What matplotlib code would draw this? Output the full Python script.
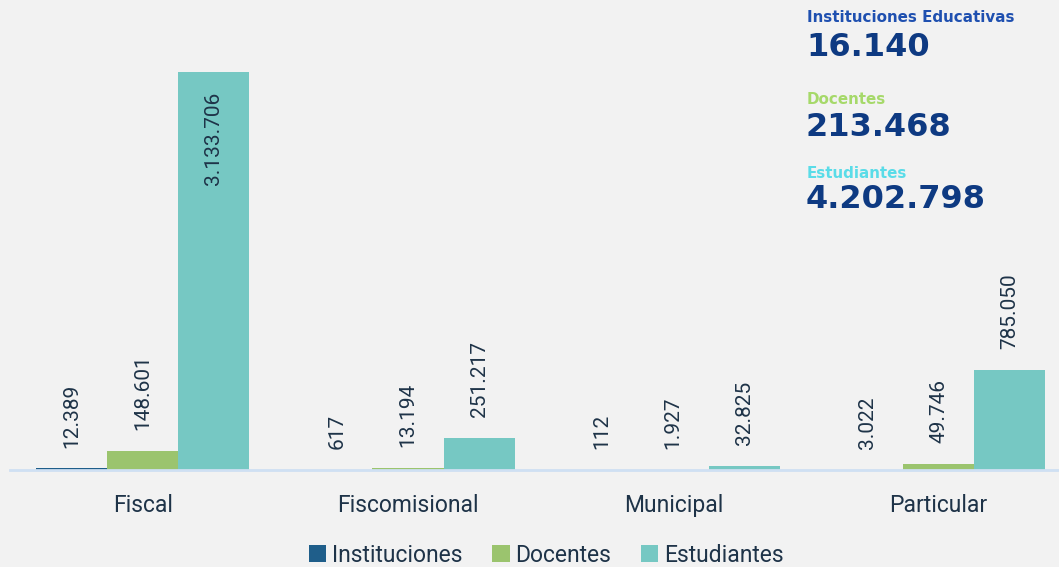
import matplotlib.pyplot as plt
import numpy as np

# --- data
categorias = ["Fiscal", "Fiscomisional", "Municipal", "Particular"]
instituciones = [12389, 617, 112, 3022]
docentes = [148601, 13194, 1927, 49746]
estudiantes = [3133706, 251217, 32825, 785050]

etiquetas_resumen = ["Instituciones Educativas", "Docentes", "Estudiantes"]
valores_resumen = ["16.140", "213.468", "4.202.798"]


def fmt(v):
    return f"{v:,}".replace(",", ".")


bg = "#f2f2f2"
text_col = "#1e3348"
colores = ["#1f5e8a", "#9bc46e", "#76c8c3"]
series = [("Instituciones", instituciones),
          ("Docentes", docentes),
          ("Estudiantes", estudiantes)]

plt.rcParams["font.family"] = ["Roboto", "DejaVu Sans"]

fig = plt.figure(figsize=(10.59, 5.67), dpi=100, facecolor=bg)
ax = fig.add_axes([10 / 1059, 1 - 470 / 567, 1049 / 1059, 470 / 567])
ax.set_facecolor(bg)

x = np.arange(len(categorias))
width = 0.268
ymax = max(estudiantes) * 470 / 398

for i, (nombre, vals) in enumerate(series):
    pos = x + (i - 1) * width
    ax.bar(pos, vals, width, label=nombre, color=colores[i], linewidth=0)
    for xp, v in zip(pos, vals):
        if v > 0.6 * ymax:
            ax.annotate(fmt(v), (xp, v), xytext=(0, -14), textcoords="offset points",
                        rotation=90, ha="center", va="top", fontsize=15, color=text_col)
        else:
            ax.annotate(fmt(v), (xp, v), xytext=(0, 15), textcoords="offset points",
                        rotation=90, ha="center", va="bottom", fontsize=15, color=text_col)

ax.set_xlim(-0.5, -0.5 + 1049 / 265.3)
ax.set_ylim(0, ymax)
ax.set_xticks(x)
ax.set_xticklabels(categorias, fontsize=16.5, color=text_col)
ax.tick_params(axis="x", length=0, pad=17)
ax.set_yticks([])
for s in ["top", "right", "left"]:
    ax.spines[s].set_visible(False)
ax.spines["bottom"].set_color("#cfe0f3")
ax.spines["bottom"].set_linewidth(2)

fig.legend(loc="center", bbox_to_anchor=(0.516, 0.021), ncol=3, frameon=False,
           fontsize=16.5, handlelength=0.75, handleheight=0.75, handletextpad=0.25,
           columnspacing=1.3, labelcolor=text_col)

# --- summary at the top right
col_tit = ["#1f50b0", "#a6d96a", "#5adce8"]
ys_tit = [18, 100, 174]
ys_val = [47, 128, 200]
for tit, val, c, yt, yv in zip(etiquetas_resumen, valores_resumen, col_tit, ys_tit, ys_val):
    fig.text(807 / 1059, 1 - yt / 567, tit, fontsize=10.9, fontweight="bold",
             color=c, family="DejaVu Sans", va="center", ha="left")
    fig.text(806 / 1059, 1 - yv / 567, val, fontsize=23, fontweight="bold",
             color="#0e3a82", family="DejaVu Sans", va="center", ha="left")

fig.savefig("out.png", dpi=100, facecolor=bg)
